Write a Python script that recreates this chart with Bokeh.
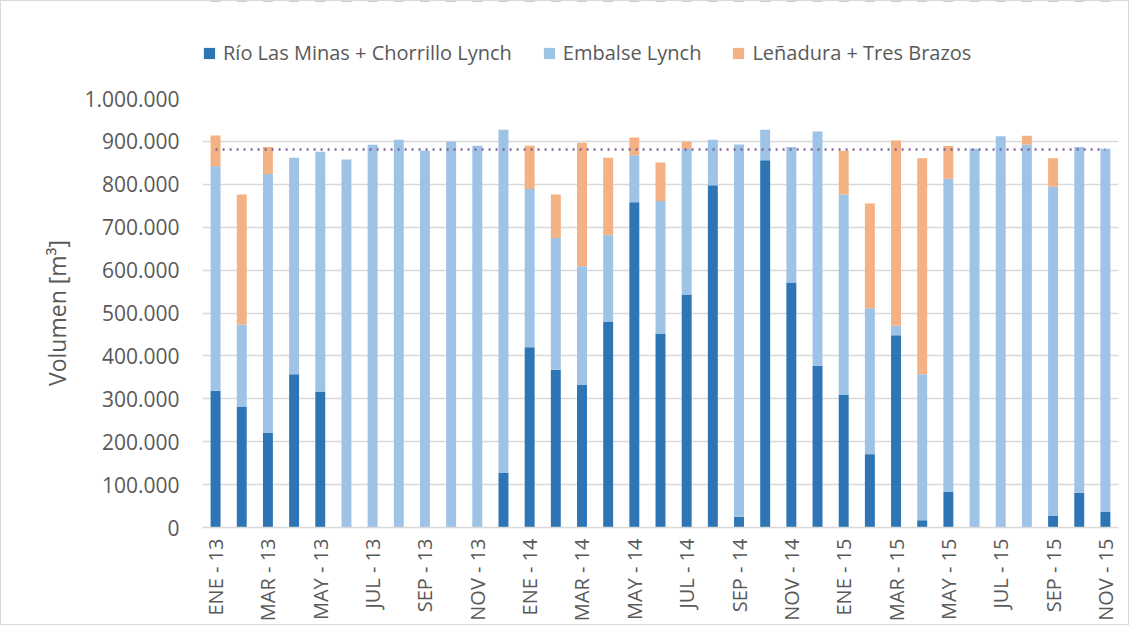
from bokeh.plotting import figure
from bokeh.layouts import column
from bokeh.models import (ColumnDataSource, Legend, LegendItem, FixedTicker, Range1d)
from bokeh.embed import file_html
from bokeh.resources import INLINE
import math

# ---- data ----
months = ["ENE", "FEB", "MAR", "ABR", "MAY", "JUN", "JUL", "AGO", "SEP", "OCT", "NOV", "DIC"]
categories = [f"{m} - {y}" for y in ("13", "14", "15") for m in months][:35]

rio_chorrillo = [319000, 282000, 220000, 357000, 317000, 0, 0, 0, 0, 0, 0, 127000,
                 420000, 368000, 332000, 480000, 758000, 452000, 543000, 798000, 25000, 856000, 571000, 377000,
                 309000, 171000, 448000, 17000, 83000, 0, 0, 0, 27000, 81000, 36000]
embalse_lynch = [523000, 191000, 604000, 505000, 559000, 858000, 892000, 904000, 878000, 900000, 890000, 800000,
                 369000, 307000, 277000, 201000, 110000, 309000, 339000, 106000, 868000, 71000, 316000, 546000,
                 467000, 340000, 22000, 340000, 730000, 883000, 912000, 892000, 767000, 806000, 847000]
lenadura_tres = [72000, 303000, 63000, 0, 0, 0, 0, 0, 0, 0, 0, 0,
                 101000, 101000, 288000, 181000, 41000, 90000, 17000, 0, 0, 0, 0, 0,
                 102000, 244000, 432000, 504000, 76000, 0, 0, 21000, 67000, 0, 0]
target = 881000

series_names = ["Río Las Minas + Chorrillo Lynch", "Embalse Lynch", "Leñadura + Tres Brazos"]
y_ticks = [0, 100000, 200000, 300000, 400000, 500000, 600000, 700000, 800000, 900000, 1000000]

colors = ["#2E75B6", "#9DC3E6", "#F4B183"]
text_color = "#595959"
grid_color = "#d9d9d9"
FONT = "Open Sans"

W = 1127
LEG_H = 72
fields = ["rio", "emb", "len"]

idx = list(range(len(categories)))
source = ColumnDataSource(dict(x=idx, rio=rio_chorrillo, emb=embalse_lynch, len=lenadura_tres,
                               tgt=[target] * len(categories)))

# ---- main chart ----
p = figure(width=W, height=623 - LEG_H, output_backend="svg", toolbar_location=None,
           x_range=Range1d(-0.5, len(categories) - 0.5),
           y_range=Range1d(0, 1000000),
           min_border_left=201, min_border_right=10, min_border_top=97 - LEG_H, min_border_bottom=95)
p.outline_line_color = None

p.vbar_stack(fields, x="x", width=0.38, color=colors, line_color=None, source=source)
p.line(x="x", y="tgt", source=source, line_color="#8064A2", line_width=2.5, line_dash="2 5")

p.yaxis.ticker = FixedTicker(ticks=y_ticks)
p.yaxis.major_label_overrides = {v: f"{v:,}".replace(",", ".") for v in y_ticks}
p.yaxis.axis_line_color = None
p.yaxis.major_tick_line_color = None
p.yaxis.minor_tick_line_color = None
p.yaxis.major_tick_out = 0
p.yaxis.major_tick_in = 0
p.yaxis.major_label_standoff = 23
p.yaxis.major_label_text_font = FONT
p.yaxis.major_label_text_font_size = "21px"
p.yaxis.major_label_text_color = text_color
p.yaxis.axis_label = "Volumen [m³]"
p.yaxis.axis_label_text_font = FONT
p.yaxis.axis_label_text_font_size = "23px"
p.yaxis.axis_label_text_font_style = "normal"
p.yaxis.axis_label_text_color = text_color
p.yaxis.axis_label_standoff = 8

p.xaxis.ticker = FixedTicker(ticks=idx[::2])
p.xaxis.major_label_overrides = {i: categories[i] for i in idx[::2]}
p.xaxis.major_label_orientation = math.pi / 2
p.xaxis.major_tick_line_color = None
p.xaxis.minor_tick_line_color = None
p.xaxis.major_tick_out = 0
p.xaxis.major_tick_in = 0
p.xaxis.major_label_standoff = 11
p.xaxis.major_label_text_font = FONT
p.xaxis.major_label_text_font_size = "20px"
p.xaxis.major_label_text_color = text_color
p.xaxis.axis_line_color = grid_color
p.xaxis.axis_line_width = 1.5

p.xgrid.grid_line_color = None
p.ygrid.grid_line_color = grid_color
p.ygrid.grid_line_width = 1.5

# ---- legend strip above the chart (same series, out of view, only for the legend swatches) ----
lf = figure(width=W, height=LEG_H, output_backend="svg", toolbar_location=None,
            x_range=Range1d(-0.5, len(categories) - 0.5), y_range=Range1d(-2, -1),
            min_border=0, x_axis_location=None, y_axis_location=None)
lf.outline_line_color = None
lf.grid.visible = False
swatches = lf.vbar_stack(fields, x="x", width=0.38, color=colors, line_color=None, source=source)
legend = Legend(items=[LegendItem(label=n, renderers=[r]) for n, r in zip(series_names, swatches)],
                orientation="horizontal", location=(0, LEG_H - 65),
                label_text_font=FONT, label_text_font_size="20px", label_text_color=text_color,
                glyph_width=14, glyph_height=14, label_standoff=7, spacing=30,
                padding=0, margin=0, border_line_color=None, background_fill_alpha=0)
lf.add_layout(legend, "center")

layout = column(lf, p, spacing=0)
layout.styles = {"border": "1px solid #d9d9d9"}

open("out.html", "w").write(file_html(layout, INLINE))
